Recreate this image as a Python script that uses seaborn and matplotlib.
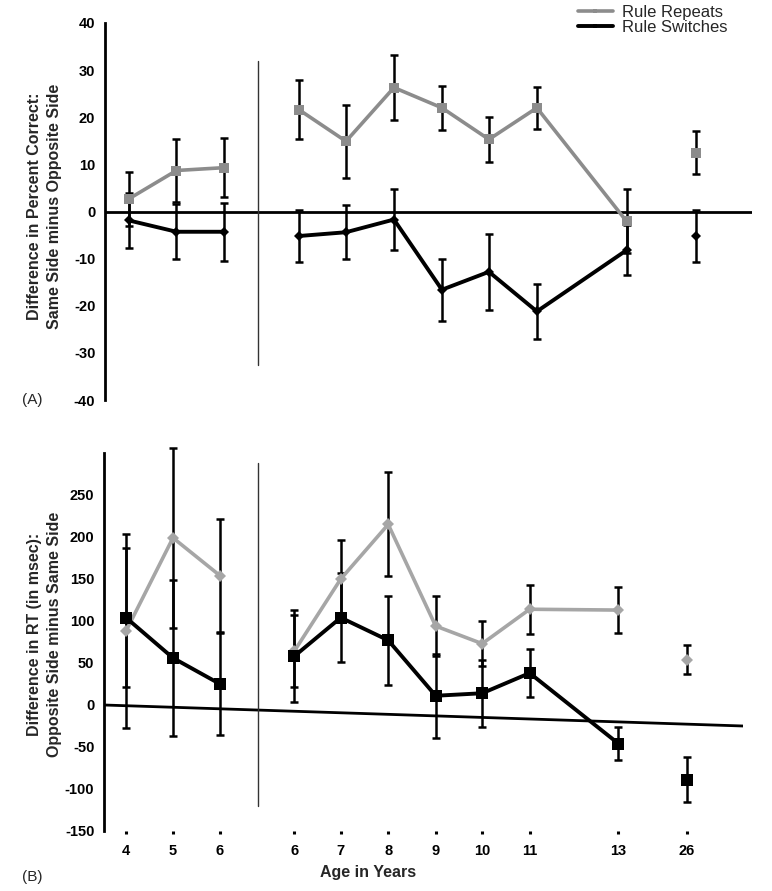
import numpy as np
import pandas as pd
import matplotlib
matplotlib.use("Agg")
import matplotlib.pyplot as plt
from matplotlib.lines import Line2D
import seaborn as sns

sns.set_style("white")
plt.rcParams['font.family'] = ['Liberation Sans', 'DejaVu Sans']
plt.rcParams['axes.unicode_minus'] = False

# age groups (two 6-year-old groups: before and after the divider)
ages = ["4", "5", "6", "6", "7", "8", "9", "10", "11", "13", "26"]
x_pos = [0, 1, 2, 3.58, 4.57, 5.58, 6.59, 7.58, 8.59, 10.48, 11.94]
segment = [0, 0, 0, 1, 1, 1, 1, 1, 1, 1, 2]

# (A) percent correct, same side minus opposite side
acc_repeat = [2.7, 8.7, 9.3, 21.6, 14.9, 26.3, 22.0, 15.3, 22.0, -2.1, 12.5]
acc_repeat_err = [5.7, 6.6, 6.2, 6.3, 7.7, 6.9, 4.6, 4.7, 4.5, 6.8, 4.5]
acc_switch = [-1.9, -4.3, -4.3, -5.2, -4.4, -1.7, -16.6, -12.8, -21.2, -8.2, -5.2]
acc_switch_err = [5.9, 5.8, 6.1, 5.6, 5.7, 6.5, 6.6, 8.0, 5.8, 5.3, 5.6]

# (B) RT, opposite side minus same side (msec)
rt_repeat = [88, 199, 154, 64, 150, 215, 94, 73, 114, 113, 54]
rt_repeat_err = [115, 107, 67, 43, 46, 62, 36, 27, 29, 27, 17]
rt_switch = [104, 56, 25, 58, 104, 77, 11, 14, 38, -46, -89]
rt_switch_err = [83, 93, 61, 55, 53, 53, 50, 40, 29, 20, 27]
rt_baseline = [0, -25]

gray_a = "#8c8c8c"
gray_b = "#a6a6a6"

fig = plt.figure(figsize=(7.72, 8.91), dpi=100)
ax1 = fig.add_axes([105/772, 1-400/891, 647/772, 377/891])
ax2 = fig.add_axes([104/772, 1-831/891, 639/772, 378/891])


def draw_series(ax, y, err, color, marker, msize, lw):
    df = pd.DataFrame({"x": x_pos, "y": y, "seg": segment})
    ax.errorbar(x_pos, y, yerr=err, fmt="none", ecolor="black",
                elinewidth=1.8, capsize=3, capthick=1.8, zorder=2, clip_on=False)
    sns.lineplot(data=df, x="x", y="y", units="seg", estimator=None, sort=False,
                 color=color, lw=lw, marker=marker, markersize=msize,
                 markeredgewidth=0, ax=ax, zorder=3, legend=False)


# ---- panel A
ax1.set_xlim(-0.505, 13.12)
ax1.set_ylim(-40, 40)
ax1.axhline(0, color="black", lw=2, zorder=1)
ax1.plot([2.72, 2.72], [-32.5, 32], color="#333333", lw=1)
draw_series(ax1, acc_repeat, acc_repeat_err, gray_a, "s", 7, 2.6)
draw_series(ax1, acc_switch, acc_switch_err, "black", "D", 5, 2.8)
ax1.set_yticks(np.arange(-40, 41, 10))
ax1.set_xticks([])

# ---- panel B
ax2.set_xlim(-0.468, 13.13)
ax2.set_ylim(-150, 300)
ax2.plot(ax2.get_xlim(), rt_baseline, color="black", lw=2, zorder=1)
ax2.plot([2.81, 2.81], [-120, 288], color="#333333", lw=1)
draw_series(ax2, rt_repeat, rt_repeat_err, gray_b, "D", 6, 2.6)
draw_series(ax2, rt_switch, rt_switch_err, "black", "s", 8, 2.8)
ax2.set_yticks(np.arange(-150, 251, 50))
ax2.set_xticks(x_pos)
ax2.set_xticklabels(ages)

for ax in (ax1, ax2):
    sns.despine(ax=ax, top=True, right=True, bottom=True)
    ax.spines["left"].set_linewidth(2)
    ax.spines["left"].set_color("black")
    ax.tick_params(axis="y", direction="out", length=4, width=2, pad=3,
                   labelsize=10.5, colors="black")
    ax.set_xlabel("")
    ax.set_ylabel("")
    for t in ax.get_yticklabels():
        t.set_fontweight("bold")

ax2.tick_params(axis="x", bottom=True, direction="out", length=2.5, width=2.2, pad=7,
                labelsize=10.5, colors="black")
for t in ax2.get_xticklabels():
    t.set_fontweight("bold")

fig.text(44.5/772, 1-206/891, "Difference in Percent Correct:\nSame Side minus Opposite Side",
         rotation=90, ha="center", va="center", fontsize=11.5, fontweight="bold",
         linespacing=1.35)
fig.text(44.5/772, 1-634/891, "Difference in RT (in msec):\nOpposite Side minus Same Side",
         rotation=90, ha="center", va="center", fontsize=11.5, fontweight="bold",
         linespacing=1.35)
fig.text(368/772, 1-873/891, "Age in Years", ha="center", va="center",
         fontsize=11.5, fontweight="bold")
fig.text(32/772, 1-400/891, "(A)", ha="center", va="center", fontsize=11)
fig.text(32/772, 1-877/891, "(B)", ha="center", va="center", fontsize=11)

handles = [Line2D([0], [0], color=gray_a, lw=2.6, marker="s", markersize=3, markeredgewidth=0),
           Line2D([0], [0], color="black", lw=2.8, marker="s", markersize=3, markeredgewidth=0)]
fig.legend(handles, ["Rule Repeats", "Rule Switches"], loc="upper left",
           bbox_to_anchor=(566/772, 1+7/891), frameon=False, fontsize=12,
           handlelength=2.1, handletextpad=0.55, labelspacing=0.0, borderpad=0.2)

fig.savefig("out.png", dpi=100)
